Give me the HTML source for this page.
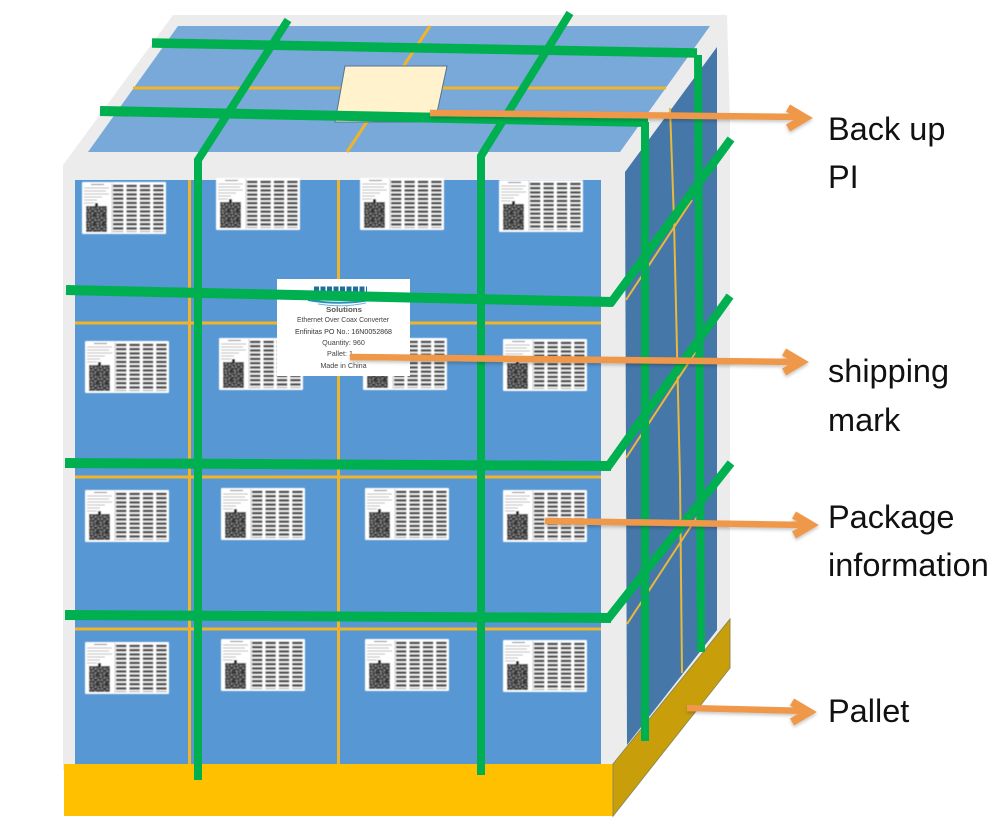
<!DOCTYPE html>
<html><head><meta charset="utf-8">
<style>
html,body{margin:0;padding:0;background:#fff;width:1002px;height:832px;overflow:hidden}
svg{display:block}
text{font-family:"Liberation Sans",Arial,sans-serif}
</style></head>
<body>
<svg width="1002" height="832" viewBox="0 0 1002 832" xmlns="http://www.w3.org/2000/svg">
<defs>
<pattern id="qr" width="9" height="9" patternUnits="userSpaceOnUse">
<rect width="9" height="9" fill="#5a5a5a"/>
<g fill="#2a2a2a"><rect x="0" y="0" width="2" height="1.500"/><rect x="4" y="1" width="1.500" height="2"/><rect x="7" y="0" width="2" height="1.500"/><rect x="1" y="3" width="2" height="1.500"/><rect x="5" y="4" width="3" height="1.500"/><rect x="0" y="6" width="1.500" height="2"/><rect x="3" y="6" width="2" height="1.500"/><rect x="7" y="7" width="2" height="2"/></g>
<g fill="#aaa"><rect x="2.500" y="1.500" width="1" height="1"/><rect x="6" y="2.500" width="1" height="1"/><rect x="0" y="4.500" width="1" height="1"/><rect x="3.500" y="4.500" width="1" height="1"/><rect x="2" y="8" width="1" height="1"/><rect x="6" y="7" width="1" height="1"/></g>
</pattern>
<pattern id="bars" width="13.4" height="4.25" patternUnits="userSpaceOnUse">
<rect x="0" y="0.700" width="10.400" height="2.500" fill="#4a4a4a"/>
</pattern>
<filter id="soft" x="-5%" y="-5%" width="110%" height="110%"><feGaussianBlur stdDeviation="0.45"/></filter>
<filter id="txt" x="-5%" y="-5%" width="110%" height="110%"><feGaussianBlur stdDeviation="0.25"/></filter>
<filter id="sh" x="-5%" y="-100%" width="110%" height="300%"><feDropShadow dx="0" dy="2" stdDeviation="1.500" flood-color="#000" flood-opacity=".22"/></filter>
<symbol id="lab" viewBox="0 0 84 52" width="84" height="52" overflow="visible">
<g filter="url(#soft)">
<rect width="84" height="52" rx="1" fill="#fff"/>
<g transform="translate(31,2)"><rect width="53" height="48" fill="url(#bars)"/></g>
<line x1="30" y1="1" x2="30" y2="51" stroke="#999" stroke-width=".5"/>
<g stroke="#bbb" stroke-width="1"><line x1="9" y1="2.500" x2="22" y2="2.500" stroke="#777"/><line x1="2" y1="6" x2="27" y2="6"/><line x1="2" y1="9" x2="24" y2="9"/><line x1="2" y1="12" x2="27" y2="12"/><line x1="2" y1="15" x2="20" y2="15"/><line x1="2" y1="18" x2="15" y2="18"/><line x1="2" y1="21" x2="12" y2="21"/></g>
<rect x="13" y="21" width="3" height="4" fill="#222"/>
<g transform="translate(4,24)"><rect width="21" height="26" fill="url(#qr)"/></g>
</g>
</symbol>
</defs>

<!-- gray box -->
<polygon points="63,165 173,15 727,15 730,120 730,620 613,770 63,770" fill="#ececec"/>
<polygon points="178,26 710,26 620,152 88,152" fill="#78a9d9"/>
<rect x="75" y="180" width="526" height="584" fill="#5797d3"/>
<polygon points="625,172 717,47 717,630 627,745" fill="#4577a9"/>

<!-- top strings -->
<g stroke="#f0b429" stroke-width="3" fill="none">
<line x1="133" y1="88" x2="666" y2="88"/>
<line x1="430" y1="26" x2="347" y2="152"/>
</g>
<!-- backup PI -->
<polygon points="345,66 447,66 435,122 335,122" fill="#fff2cc" stroke="#5a7190" stroke-width="1"/>

<!-- front strings -->
<g stroke="#f0b429" stroke-width="3" fill="none">
<line x1="75" y1="323" x2="601" y2="323"/>
<line x1="75" y1="477" x2="601" y2="477"/>
<line x1="75" y1="629" x2="601" y2="629"/>
<line x1="189.500" y1="180" x2="189.500" y2="764"/>
<line x1="338.500" y1="180" x2="338.500" y2="764"/>
<line x1="479" y1="180" x2="479" y2="764"/>
</g>
<!-- side strings -->
<g stroke="#e8b93a" stroke-width="2" fill="none">
<polyline points="670,108 674,220 680,480 682,673"/>
<line x1="626" y1="300" x2="692" y2="200"/>
<line x1="626" y1="458" x2="697" y2="350"/>
<line x1="627" y1="624" x2="697" y2="517"/>
</g>

<!-- labels -->
<use href="#lab" x="82" y="182"/><use href="#lab" x="216" y="178"/><use href="#lab" x="360" y="178"/><use href="#lab" x="499" y="180"/>
<use href="#lab" x="85" y="341"/><use href="#lab" x="219" y="338"/><use href="#lab" x="363" y="338"/><use href="#lab" x="503" y="339"/>
<use href="#lab" x="85" y="490"/><use href="#lab" x="221" y="488"/><use href="#lab" x="365" y="488"/><use href="#lab" x="503" y="490"/>
<use href="#lab" x="85" y="642"/><use href="#lab" x="221" y="639"/><use href="#lab" x="365" y="639"/><use href="#lab" x="503" y="640"/>

<!-- shipping mark -->
<rect x="277" y="279" width="133" height="97" fill="#fff"/>
<line x1="314" y1="289" x2="367" y2="289" stroke="#1f6f9c" stroke-width="5" stroke-dasharray="5 1.500"/>
<path d="M308 300 Q342 306 375 299" fill="none" stroke="#2a8fc0" stroke-width="2"/>
<path d="M318 304 Q342 308 366 303" fill="none" stroke="#6fb4d8" stroke-width="1"/>
<g font-size="7.200" fill="#444" text-anchor="middle" filter="url(#txt)">
<text x="344" y="312" font-weight="bold" fill="#555" textLength="36" lengthAdjust="spacingAndGlyphs">Solutions</text>
<text x="343" y="322" textLength="92" lengthAdjust="spacingAndGlyphs">Ethernet Over Coax Converter</text>
<text x="343.500" y="334" textLength="97" lengthAdjust="spacingAndGlyphs" fill="#333">Enfinitas PO No.:  16N0052868</text>
<text x="343.500" y="345">Quantity:  960</text>
<text x="340" y="356">Pallet:  1</text>
<text x="343.500" y="368">Made in China</text>
</g>

<!-- pallet -->
<rect x="64" y="764" width="549" height="52" fill="#ffc000"/>
<polygon points="613,764 730,619 730,668 613,816" fill="#c89e0a" stroke="#8f8a50" stroke-width="1"/>

<!-- green straps -->
<g stroke="#00b050" fill="none" stroke-linejoin="miter">
<line x1="152" y1="43" x2="697" y2="53" stroke-width="9.500"/>
<line x1="100" y1="111" x2="648" y2="122" stroke-width="10"/>
<polyline points="288,20 198,160 198,780" stroke-width="8"/>
<polyline points="570,13 481,156 481,775" stroke-width="8"/>
<line x1="645" y1="122" x2="645" y2="741" stroke-width="8"/>
<line x1="698" y1="55" x2="701" y2="652" stroke-width="8"/>
<line x1="66" y1="290" x2="613" y2="302" stroke-width="10"/>
<line x1="610" y1="304" x2="731" y2="139" stroke-width="8.500"/>
<line x1="65" y1="463" x2="611" y2="466" stroke-width="10"/>
<line x1="607" y1="468" x2="730" y2="296" stroke-width="8.500"/>
<line x1="65" y1="615" x2="611" y2="618" stroke-width="10"/>
<line x1="607" y1="620" x2="731" y2="463" stroke-width="8.500"/>
</g>

<!-- arrows -->
<g stroke="#f0984a" fill="none" filter="url(#sh)" stroke-linecap="butt">
<line x1="430" y1="113" x2="804" y2="117" stroke-width="6.500"/><polyline points="788,108 805,118 788,128" stroke-width="8"/>
<line x1="350" y1="357" x2="800" y2="362" stroke-width="6.500"/><polyline points="784,352 801,362 784,372" stroke-width="8"/>
<line x1="545" y1="521" x2="810" y2="525" stroke-width="6.500"/><polyline points="794,515 811,525 794,535" stroke-width="8"/>
<line x1="687" y1="708" x2="808" y2="711" stroke-width="6.500"/><polyline points="792,702 809,712 792,722" stroke-width="8"/>
</g>

<!-- text labels -->
<g font-size="32.500" fill="#111">
<text x="828" y="140">Back up</text>
<text x="828" y="188">PI</text>
<text x="828" y="382">shipping</text>
<text x="828" y="431">mark</text>
<text x="828" y="528">Package</text>
<text x="828" y="576">information</text>
<text x="828" y="722">Pallet</text>
</g>
</svg>
</body></html>
